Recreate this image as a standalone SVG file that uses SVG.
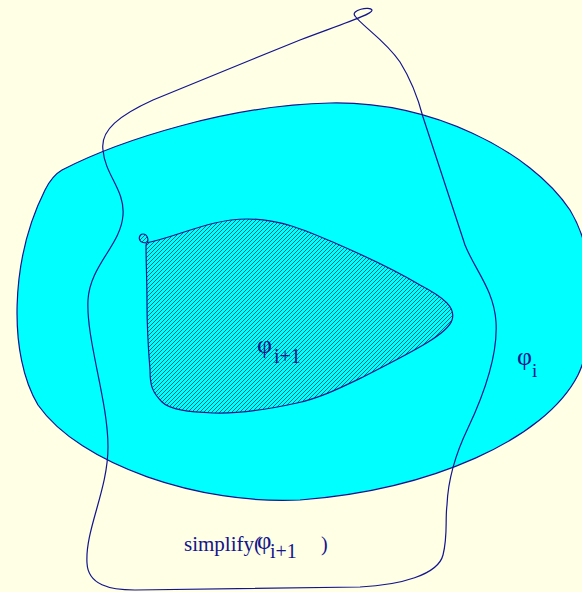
<svg xmlns="http://www.w3.org/2000/svg" width="582" height="592" viewBox="0 0 582 592">
<defs>
<pattern id="hatch" patternUnits="userSpaceOnUse" width="4" height="4">
<rect width="4" height="4" fill="#00ffff"/>
<path d="M-1,1 L1,-1 M0,4 L4,0 M3,5 L5,3" stroke="#005f6a" stroke-width="0.9"/>
</pattern>
<style>
.ln{stroke:#14148c;stroke-width:1.2;fill:none}
.t{font-family:"Liberation Serif","Times New Roman",serif;fill:#14148c}
</style>
</defs>
<rect width="582" height="592" fill="#ffffe6"/>
<g id="phi_i">
<path class="ln" style="fill:#00ffff" d="M62,170 C120,140 230,105 330,103 C430,101 530,150 570,210 C600,260 595,340 578,375 C545,440 430,490 300,500 C200,505 80,465 38,405 C8,355 10,260 45,190 C50,180 55,174 62,170 Z"/>
<text class="t" x="517" y="365" font-size="26">φ</text>
<text class="t" x="532" y="377" font-size="19">i</text>
</g>
<g id="phi_i1">
<path class="ln" style="fill:url(#hatch)" d="M146,245 C150,240 147,234 143,234 C139,234 136,242 146,243 C180,236 210,219 247,219 C280,219 305,230 335,243 C365,256 395,270 420,285 C445,298 456,308 452,320 C448,333 420,348 363,377 C340,388 320,398 297,403 C270,409 240,414 213,413 C190,412 170,410 162,402 C152,392 150,385 150,370 C148,345 147,325 147,305 C147,280 146,262 146,245 Z"/>
<text class="t" x="257" y="353" font-size="26">φ</text>
<text class="t" x="274" y="363" font-size="20">i+1</text>
</g>
<g id="simplify">
<path class="ln" d="M400,62 C385,40 362,26 355,16 C350,10 370,6 372,10 C373,14 345,23 300,40 C250,60 190,85 153,100 C120,115 100,130 103,150 C105,175 125,190 123,215 C121,245 90,265 88,300 C86,340 108,400 108,447 C108,490 85,530 87,563 C88,585 110,590 135,590 L360,587 C400,585 438,575 443,555 C448,535 445,520 447,505 C448,480 455,455 468,428 C485,392 498,355 496,322 C494,290 475,270 465,245 L423,117 C418,98 410,78 400,62 Z"/>
<text class="t" x="184" y="551" font-size="21">simplify(</text>
<text class="t" x="257" y="549" font-size="25">φ</text>
<text class="t" x="270" y="558" font-size="20">i+1</text>
<text class="t" x="321" y="551" font-size="20">)</text>
</g>
</svg>
